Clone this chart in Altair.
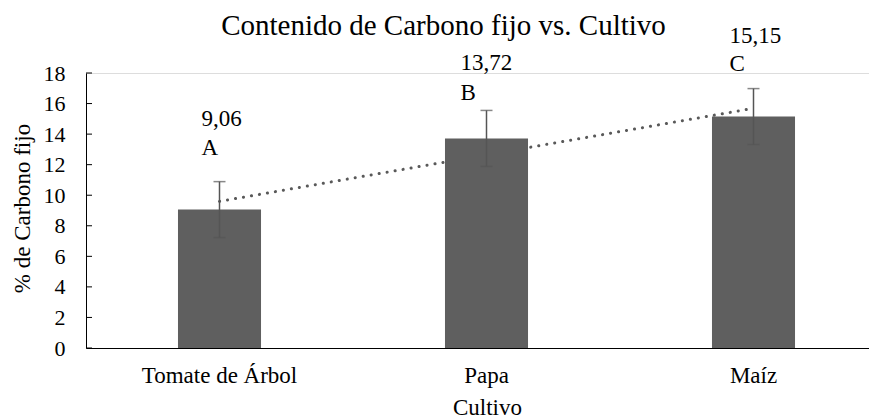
import json
import altair as alt
import pandas as pd

categories = ["Tomate de Árbol", "Papa", "Maíz"]
order = [1, 2, 3]
values = [9.06, 13.72, 15.15]
errors = [1.83, 1.83, 1.83]
letters = ["A", "B", "C"]
y_ticks = [0, 2, 4, 6, 8, 10, 12, 14, 16, 18]

df = pd.DataFrame({"cultivo": categories, "idx": order, "valor": values,
                   "err": errors, "letra": letters})
ticks_df = pd.DataFrame({"t": y_ticks})

FONT = "'Liberation Serif', 'Times New Roman', Times, serif"
BAR = "#5f5f5f"
ERR = "#555555"
TREND = "#595959"

xscale = alt.Scale(domain=categories, range=[0, 801], paddingInner=0.689, paddingOuter=0.3445)
yscale = alt.Scale(domain=[0, 18], nice=False, zero=True)

xaxis = alt.Axis(title="Cultivo", labelAngle=0, ticks=False, tickSize=0, labelPadding=34,
                 labelBaseline="alphabetic", labelFont=FONT, labelFontSize=23, labelColor="black",
                 titleFont=FONT, titleFontSize=23, titleFontWeight="normal", titleColor="black",
                 titleX=401, titleY=66, titleBaseline="alphabetic", domainColor="black",
                 domainWidth=1, grid=False)
yaxis = alt.Axis(title="% de Carbono fijo", values=y_ticks, ticks=False, tickSize=0, labelPadding=21,
                 labelFont=FONT, labelFontSize=22, labelColor="black",
                 titleFont=FONT, titleFontSize=23, titleFontWeight="normal", titleColor="black",
                 titleX=-64, titleY=135, titleBaseline="middle", domainColor="black",
                 domainWidth=1, grid=False)

X = alt.X("cultivo:N", scale=xscale, sort=categories, axis=xaxis)

base = alt.Chart(df)

cat_expr = json.dumps(categories, ensure_ascii=False) + "[round(datum.idx) - 1]"
trend = base.transform_regression("idx", "valor", method="linear").transform_calculate(
    cultivo=cat_expr
).mark_line(color=TREND, strokeWidth=3, strokeDash=[0.1, 8], strokeCap="round").encode(
    x=X, y=alt.Y("valor:Q", scale=yscale, axis=yaxis)
)

bars = base.mark_bar(color=BAR).encode(
    x=X, y=alt.Y("valor:Q", scale=yscale, axis=yaxis)
)

err_base = base.transform_calculate(lo="datum.valor - datum.err", hi="datum.valor + datum.err")
err_rule = err_base.mark_rule(color=ERR, strokeWidth=1.5).encode(
    x=X, y=alt.Y("lo:Q", scale=yscale, axis=yaxis), y2="hi:Q"
)
cap_hi = err_base.mark_tick(color=ERR, size=12, thickness=1.5, orient="horizontal").encode(
    x=X, y=alt.Y("hi:Q", scale=yscale, axis=yaxis)
)
cap_lo = err_base.mark_tick(color=ERR, size=12, thickness=1.5, orient="horizontal").encode(
    x=X, y=alt.Y("lo:Q", scale=yscale, axis=yaxis)
)

# inward tick marks on the value axis
yticks = alt.Chart(ticks_df).mark_rule(color="black", strokeWidth=1).encode(
    y=alt.Y("t:Q", scale=yscale, axis=yaxis), x=alt.value(0), x2=alt.value(6)
)

label_offsets = {
    "Tomate de Árbol": (-18, -84, -55),
    "Papa": (-26, -68, -38),
    "Maíz": (-24, -74, -46),
}
label_layers = []
for cat in categories:
    dx, dy1, dy2 = label_offsets[cat]
    sub = base.transform_filter(alt.datum.cultivo == cat).transform_calculate(
        txt="replace(format(datum.valor, '.2f'), '.', ',')"
    )
    label_layers.append(sub.mark_text(align="left", baseline="alphabetic", font=FONT, fontSize=23,
                                      color="black", dx=dx, dy=dy1).encode(
        x=X, y=alt.Y("valor:Q", scale=yscale, axis=yaxis), text="txt:N"))
    label_layers.append(sub.mark_text(align="left", baseline="alphabetic", font=FONT, fontSize=23,
                                      color="black", dx=dx, dy=dy2).encode(
        x=X, y=alt.Y("valor:Q", scale=yscale, axis=yaxis), text="letra:N"))

chart = alt.layer(trend, bars, err_rule, cap_hi, cap_lo, yticks, *label_layers).properties(
    width=783,
    height=275,
    title=alt.TitleParams(text="Contenido de Carbono fijo vs.  Cultivo", font=FONT, fontSize=29,
                          fontWeight="normal", color="black", anchor="middle", dx=-34, dy=20),
    autosize=alt.AutoSizeParams(type="none"),
    padding={"left": 78, "top": 65, "right": 0, "bottom": 74},
).configure_view(stroke=None).configure(background="white")

chart.save("out.html", embed_options={"renderer": "svg", "actions": False})
